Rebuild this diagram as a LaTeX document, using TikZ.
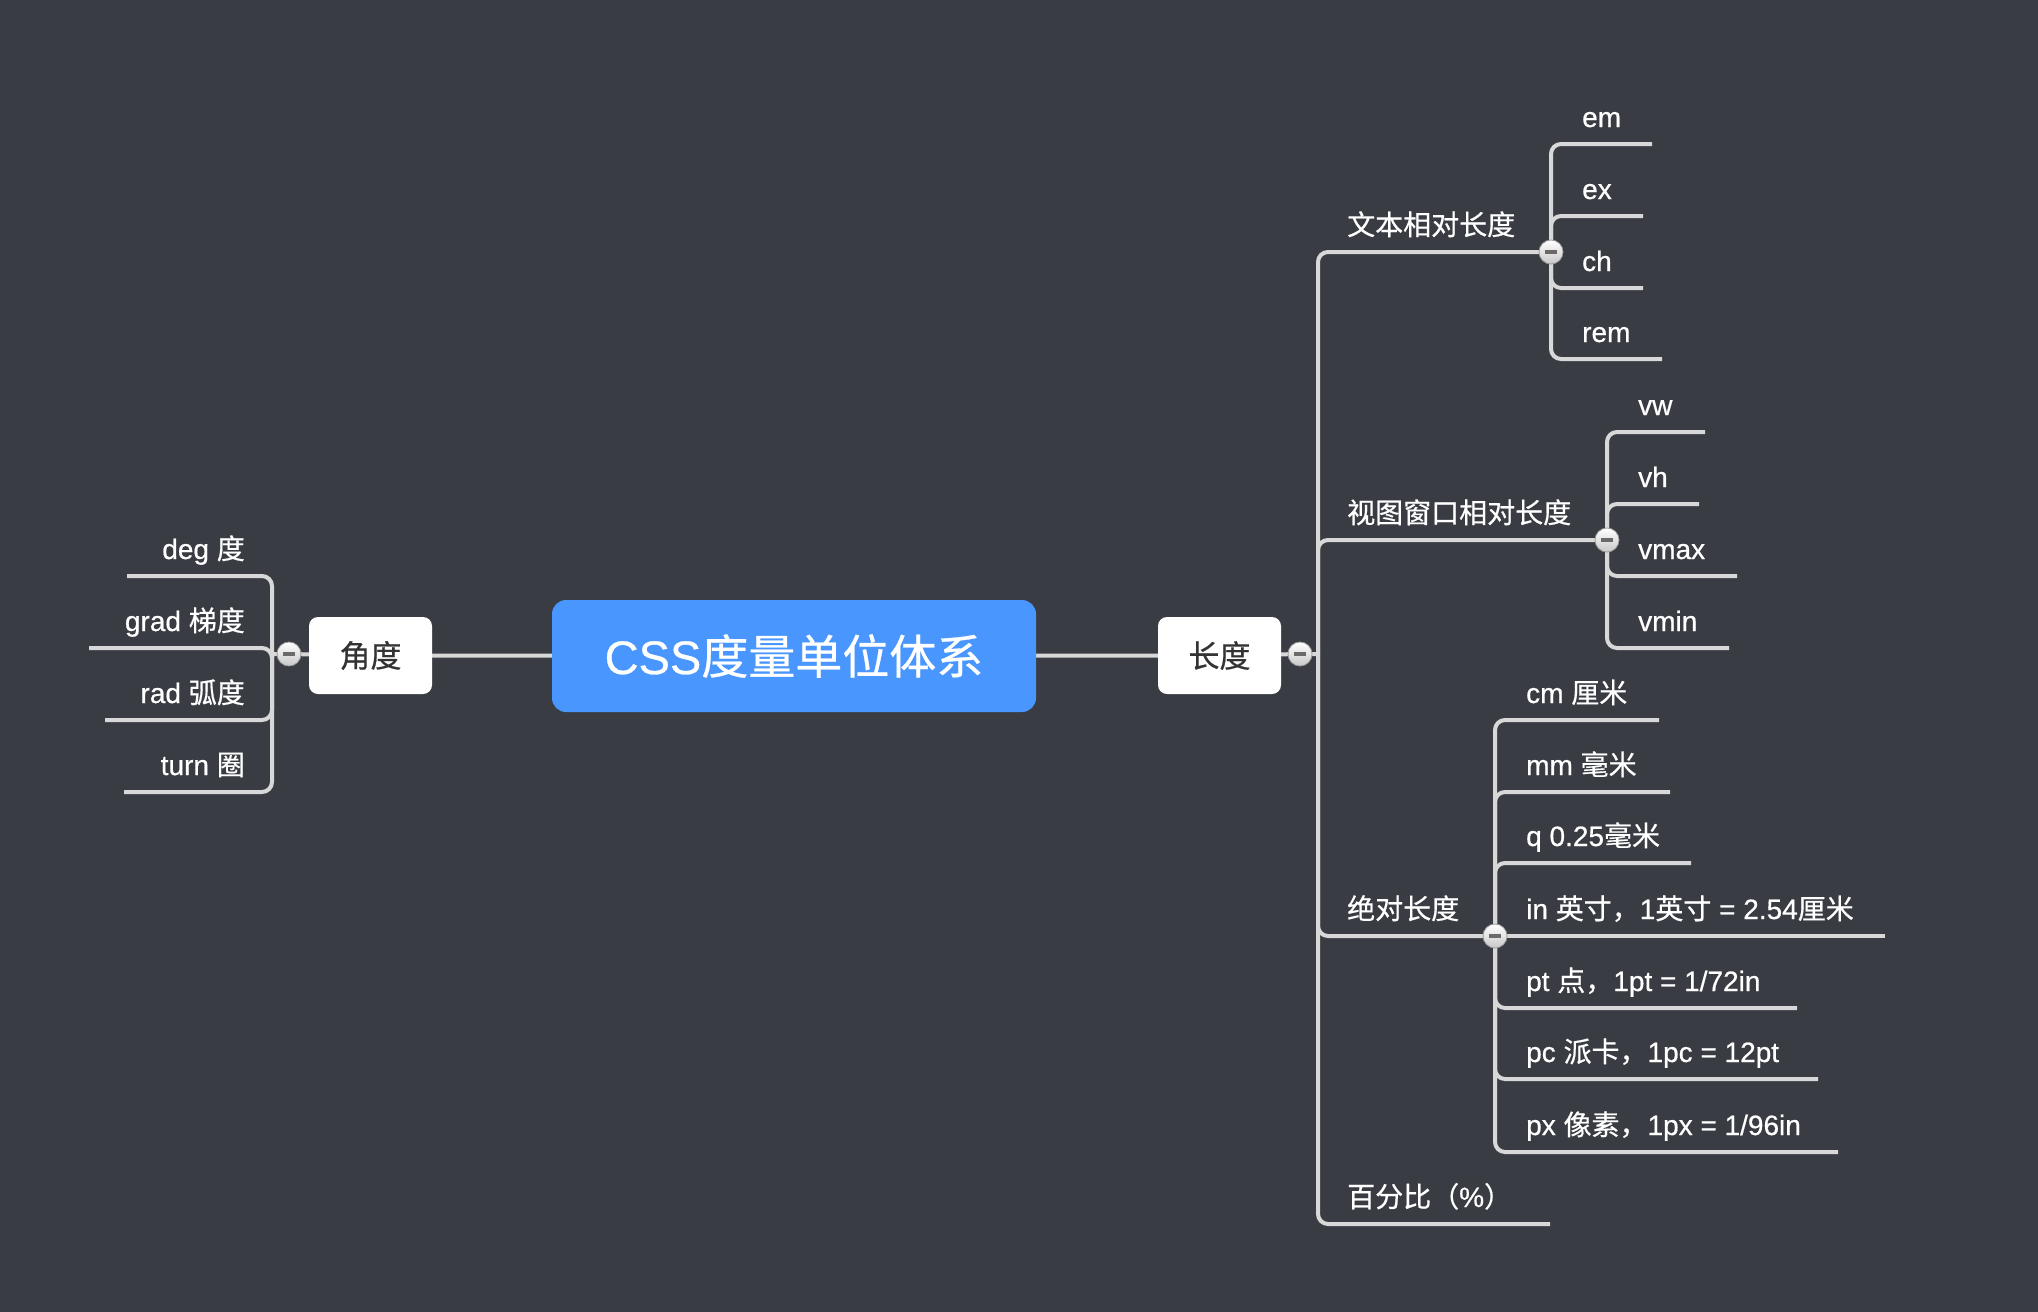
\documentclass[tikz,border=0pt]{standalone}
\usepackage{fontspec}
\setmainfont{Liberation Sans}[FakeBold=0.6]
\newfontfamily\cjk{Noto Sans CJK SC}[FakeBold=0.6]
\definecolor{bgc}{HTML}{393C42}
\definecolor{linec}{HTML}{D8D8D8}
\definecolor{bluec}{HTML}{4896FE}
\definecolor{boxtext}{HTML}{333333}
\definecolor{btnborder}{HTML}{9A9A9A}
\definecolor{btnbottom}{HTML}{C8C8C8}
\definecolor{btnminus}{HTML}{6A6A6A}
\pgfdeclarelayer{back}
\pgfdeclarelayer{lines}
\pgfsetlayers{back,lines,main}
\begin{document}
\begin{tikzpicture}[x=1pt,y=-1pt,
  br/.style={draw=linec, line width=4pt, rounded corners=10pt},
  leaf/.style={text=white, font=\fontsize{28}{34}\selectfont, inner sep=0pt},
  sub/.style={text=white, font=\fontsize{28}{34}\selectfont\cjk, inner sep=0pt},
  lvl/.style={fill=white, rounded corners=9pt, minimum width=123pt, minimum height=77pt, inner sep=0pt, text=boxtext, font=\fontsize{31}{36}\selectfont\cjk},
  rootbox/.style={fill=bluec, rounded corners=14pt, minimum width=484pt, minimum height=112pt, inner sep=0pt, text=white, font=\fontsize{47}{54}\selectfont},
  cbtn/.style={circle, minimum size=24pt, inner sep=0pt, draw=btnborder, line width=0.8pt, top color=white, bottom color=btnbottom,
    path picture={\draw[line width=3.2pt, btnminus] ([xshift=-6pt]path picture bounding box.center) -- ([xshift=6pt]path picture bounding box.center);}}
]
\begin{pgfonlayer}{back}
\fill[bgc] (0,0) rectangle (2038,1312);
\end{pgfonlayer}
\useasboundingbox (0,0) rectangle (2038,1312);

% root and level 1
\node[rootbox] (root) at (794,656) {CSS{\cjk 度量单位体系}};
\node[lvl] (ang) at (370.5,655.5) {角度};
\node[lvl] (len) at (1219.5,655.5) {长度};
\node[cbtn] (angc) at (289,654) {};
\node[cbtn] (lenc) at (1300,654) {};
\coordinate (angv) at (272,654);
\coordinate (lenv) at (1318,654);

% level 2 (length)
\node[sub, anchor=base west] (txt) at (1347,235) {文本相对长度};
\node[sub, anchor=base west] (vp) at (1347,523) {视图窗口相对长度};
\node[sub, anchor=base west] (abs) at (1347,919) {绝对长度};
\node[sub, anchor=base west] (pct) at (1347,1207) {百分比（{\rmfamily\%}）};
\node[cbtn] (txtc) at (1551,252) {};
\node[cbtn] (vpc) at (1607,540) {};
\node[cbtn] (absc) at (1495,936) {};
\coordinate (pct-e) at (1550,1224);

% angle leaves
\coordinate (deg-e) at (127,576);
\coordinate (grad-e) at (89,648);
\coordinate (rad-e) at (105,720);
\coordinate (turn-e) at (124,792);
\node[leaf, anchor=base east] (deg) at (245,559) {deg {\cjk 度}};
\node[leaf, anchor=base east] (grad) at (245,631) {grad {\cjk 梯度}};
\node[leaf, anchor=base east] (rad) at (245,703) {rad {\cjk 弧度}};
\node[leaf, anchor=base east] (turn) at (245,775) {turn {\cjk 圈}};

% text-relative leaves
\coordinate (em-e) at (1652,144);
\coordinate (ex-e) at (1643,216);
\coordinate (ch-e) at (1643,288);
\coordinate (rem-e) at (1662,359);
\node[leaf, anchor=base west] (em) at (1582,127) {em};
\node[leaf, anchor=base west] (ex) at (1582,199) {ex};
\node[leaf, anchor=base west] (ch) at (1582,271) {ch};
\node[leaf, anchor=base west] (rem) at (1582,342) {rem};

% viewport leaves
\coordinate (vw-e) at (1705,432);
\coordinate (vh-e) at (1699,504);
\coordinate (vmax-e) at (1737,576);
\coordinate (vmin-e) at (1729,648);
\node[leaf, anchor=base west] (vw) at (1638,415) {vw};
\node[leaf, anchor=base west] (vh) at (1638,487) {vh};
\node[leaf, anchor=base west] (vmax) at (1638,559) {vmax};
\node[leaf, anchor=base west] (vmin) at (1638,631) {vmin};

% absolute leaves
\coordinate (cm-e) at (1659,720);
\coordinate (mm-e) at (1670,792);
\coordinate (q-e) at (1691,863);
\coordinate (in-e) at (1885,936);
\coordinate (pt-e) at (1797,1008);
\coordinate (pc-e) at (1818,1079);
\coordinate (px-e) at (1838,1152);
\node[leaf, anchor=base west] (cm) at (1526,703) {cm {\cjk 厘米}};
\node[leaf, anchor=base west] (mm) at (1526,775) {mm {\cjk 毫米}};
\node[leaf, anchor=base west] (q) at (1526,846) {q 0.25{\cjk 毫米}};
\node[leaf, anchor=base west] (in) at (1526,919) {in {\cjk 英寸，}1{\cjk 英寸} = 2.54{\cjk 厘米}};
\node[leaf, anchor=base west] (pt) at (1526,991) {pt {\cjk 点，}1pt = 1/72in};
\node[leaf, anchor=base west] (pc) at (1526,1062) {pc {\cjk 派卡，}1pc = 12pt};
\node[leaf, anchor=base west] (px) at (1526,1135) {px {\cjk 像素，}1px = 1/96in};

\begin{pgfonlayer}{lines}
\draw[br] (root) -- (ang);
\draw[br] (root) -- (len);
\draw[br] (ang) -- (angc.center) -- (angv);
\draw[br] (len) -- (lenc.center) -- (lenv);
\draw[br] (angv) |- (deg-e);
\draw[br] (angv) |- (grad-e);
\draw[br] (angv) |- (rad-e);
\draw[br] (angv) |- (turn-e);
\draw[br] (lenv) |- (txtc.center);
\draw[br] (lenv) |- (vpc.center);
\draw[br] (lenv) |- (absc.center);
\draw[br] (lenv) |- (pct-e);
\draw[br] (txtc.center) |- (em-e);
\draw[br] (txtc.center) |- (ex-e);
\draw[br] (txtc.center) |- (ch-e);
\draw[br] (txtc.center) |- (rem-e);
\draw[br] (vpc.center) |- (vw-e);
\draw[br] (vpc.center) |- (vh-e);
\draw[br] (vpc.center) |- (vmax-e);
\draw[br] (vpc.center) |- (vmin-e);
\draw[br] (absc.center) |- (cm-e);
\draw[br] (absc.center) |- (mm-e);
\draw[br] (absc.center) |- (q-e);
\draw[br] (absc.center) -- (in-e);
\draw[br] (absc.center) |- (pt-e);
\draw[br] (absc.center) |- (pc-e);
\draw[br] (absc.center) |- (px-e);
\end{pgfonlayer}
\end{tikzpicture}
\end{document}
